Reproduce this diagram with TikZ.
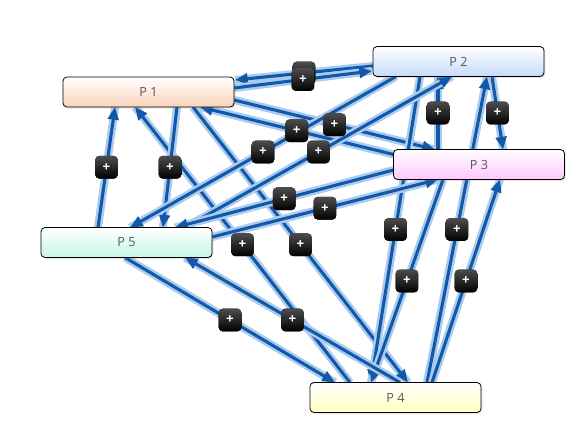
\documentclass[tikz,border=0pt]{standalone}
\usepackage{fontspec}
\setmainfont{Open Sans}
\usepackage{xcolor}
\usepackage{tikz}
\usetikzlibrary{positioning, calc, arrows.meta, shadows, backgrounds}

\definecolor{linkblue}{HTML}{1358A8}
\definecolor{linkhalo}{HTML}{A9CBEE}
\definecolor{peach}{HTML}{FBD3BA}
\definecolor{skyblue}{HTML}{C5DAFA}
\definecolor{pink}{HTML}{FFC6FF}
\definecolor{lemon}{HTML}{FFFFBE}
\definecolor{mint}{HTML}{C6F6E4}

\tikzset{
  proc/.style={draw=black, line width=0.6pt, rounded corners=3pt, minimum width=128.25pt,
    minimum height=22.5pt, inner sep=0pt, outer sep=0pt, text=black!65, font=\fontsize{9.5}{9.5}\selectfont,
    top color=white, bottom color=#1, drop shadow={opacity=0.2, shadow xshift=1pt, shadow yshift=-1.2pt}},
  link/.style={linkblue, line width=2.3pt, -{Triangle[length=9.5pt, width=8pt]},
    preaction={draw, linkhalo, line width=6pt, -}},
  plus/.style={fill=black, top color=black!70, bottom color=black, rounded corners=3pt,
    minimum size=17pt, inner sep=0pt, text=white, font=\bfseries\fontsize{10}{10}\selectfont}
}

\begin{document}
\begin{tikzpicture}[x=0.75pt, y=-0.75pt]
  \useasboundingbox (0,0) rectangle (586,422);

  % Processes
  \node[proc=peach] (p1) at (148.5,92) {P 1};
  \node[proc=skyblue] (p2) at (458.5,61.5) {P 2};
  \node[proc=pink] (p3) at (479,164.5) {P 3};
  \node[proc=lemon] (p4) at (395.5,397.5) {P 4};
  \node[proc=mint] (p5) at (126.5,242.5) {P 5};

  % Links, two per pair
  \begin{scope}[on background layer]
  \draw[link] ($(p2.west)+(0,4.5)$) -- coordinate[pos=.5] (m1) ($(p1.east)+(1,-12)$);
  \draw[link] ($(p1.east)+(0,-4)$) -- coordinate[pos=.5] (m2) ($(p2.west)+(-1,9.5)$);
  \draw[link] ($(p1.east)+(0,8)$) -- coordinate[pos=.5] (m3) ($(p3.north)+(-44,0)$);
  \draw[link] ($(p3.west)+(0,-10)$) -- coordinate[pos=.5] (m4) ($(p1.south)+(51.5,0)$);
  \draw[link] ($(p1.south)+(44.5,0)$) -- coordinate[pos=.5] (m5) ($(p4.north)+(12.5,0)$);
  \draw[link] ($(p4.north)+(-45.5,0)$) -- coordinate[pos=.5] (m6) ($(p1.south)+(-13.5,0)$);
  \draw[link] ($(p5.north)+(-28.5,0)$) -- coordinate[pos=.5] (m7) ($(p1.south)+(-33.5,0)$);
  \draw[link] ($(p1.south)+(28.5,0)$) -- coordinate[pos=.5] (m8) ($(p5.north)+(36.5,0)$);
  \draw[link] ($(p2.south)+(33.5,0)$) -- coordinate[pos=.5] (m9) ($(p3.north)+(24,0)$);
  \draw[link] ($(p3.north)+(-41,0)$) -- coordinate[pos=.5] (m10) ($(p2.south)+(-20.5,0)$);
  \draw[link] ($(p2.south)+(-38.5,0)$) -- coordinate[pos=.5] (m11) ($(p4.north)+(-24.5,0)$);
  \draw[link] ($(p4.north)+(31.5,0)$) -- coordinate[pos=.5] (m12) ($(p2.south)+(28.5,0)$);
  \draw[link] ($(p2.south)+(-62.5,0)$) -- coordinate[pos=.5] (m13) ($(p5.north)+(3.5,0)$);
  \draw[link] ($(p5.north)+(58.5,0)$) -- coordinate[pos=.5] (m14) ($(p2.south)+(-6.5,0)$);
  \draw[link] ($(p3.south)+(-36,0)$) -- coordinate[pos=.5] (m15) ($(p4.north)+(-24.5,0)$);
  \draw[link] ($(p4.north)+(36.5,0)$) -- coordinate[pos=.5] (m16) ($(p3.south)+(21,0)$);
  \draw[link] ($(p3.west)+(0,5.5)$) -- coordinate[pos=.5] (m17) ($(p5.north)+(48.5,0)$);
  \draw[link] ($(p5.east)+(0,-5.5)$) -- coordinate[pos=.5] (m18) ($(p3.south)+(-41,0)$);
  \draw[link] ($(p5.south)+(-1.5,0)$) -- coordinate[pos=.5] (m19) ($(p4.north)+(-60.5,0)$);
  \draw[link] ($(p4.north)+(4.5,0)$) -- coordinate[pos=.5] (m20) ($(p5.south)+(58.5,0)$);
  \end{scope}

  % Plus buttons
  \foreach \i in {1,...,20} {
    \node[plus] (b\i) at (m\i) {+};
  }
\end{tikzpicture}
\end{document}
